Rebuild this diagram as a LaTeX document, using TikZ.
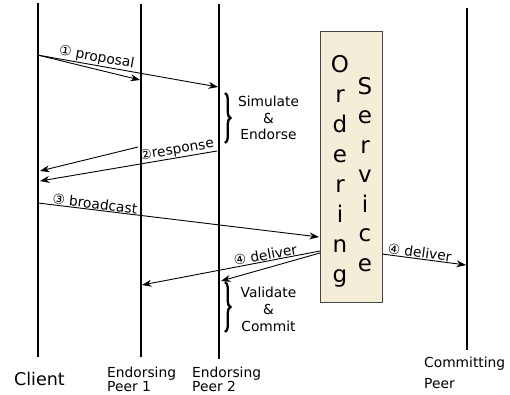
\documentclass[tikz,border=0pt]{standalone}
\usepackage{fontspec}
\setmainfont{DejaVu Sans}
\usetikzlibrary{arrows.meta,decorations.pathreplacing}
\definecolor{osfill}{RGB}{244,238,216}
\definecolor{osdraw}{RGB}{70,70,70}
\begin{document}
\begin{tikzpicture}[x=1pt,y=-1pt,
  lifeline/.style={line width=2pt},
  msg/.style={line width=0.9pt,-{Stealth[length=9.5pt,width=7pt]}},
  lbl/.style={font=\fontsize{13.8}{16}\selectfont, inner sep=0.6pt},
  side/.style={font=\fontsize{13.8}{16.5}\selectfont, inner sep=0pt, align=center, anchor=north},
  actor/.style={font=\fontsize{13.8}{14}\selectfont, inner sep=0pt, align=left, anchor=north west},
  letter/.style={font=\fontsize{23}{23}\selectfont, anchor=base, inner sep=0pt},
  brc/.style={decorate, decoration={brace, amplitude=5.5pt}, line width=2.3pt}
]
\useasboundingbox (0,0) rectangle (510,394);

% lifelines
\coordinate (cT) at (37.7,3);   \coordinate (cB) at (37.7,357);
\coordinate (e1T) at (141,4);   \coordinate (e1B) at (141,357);
\coordinate (e2T) at (219,4);   \coordinate (e2B) at (219,359);
\coordinate (cpT) at (467,8);   \coordinate (cpB) at (467,350);
\draw[lifeline] (cT) -- (cB);
\draw[lifeline] (e1T) -- (e1B);
\draw[lifeline] (e2T) -- (e2B);
\draw[lifeline] (cpT) -- (cpB);

% ordering service
\node[draw=osdraw, fill=osfill, line width=1pt, minimum width=62pt, minimum height=271pt, inner sep=0pt] (os) at (351,166.5) {};
\foreach \ch/\yy [count=\i] in {O/72,r/102,d/132,e/162,r/192,i/222,n/252,g/282}
  \node[letter] (ord\i) at (340,\yy) {\ch};
\foreach \ch/\yy [count=\i] in {S/94,e/123.5,r/153,v/182.5,i/212,c/241.5,e/271}
  \node[letter] (ser\i) at (365,\yy) {\ch};

% proposal
\coordinate (p0) at (37.5,55);
\coordinate (p1) at (140,80);
\coordinate (p2) at (218,87);
\draw[msg] (p0) -- (p1);
\draw[msg] (p0) -- node[lbl, sloped, above, pos=0.32] (lprop) {① proposal} (p2);

% simulate & endorse
\coordinate (b1t) at (225,93);
\coordinate (b1b) at (225,143);
\draw[brc] (b1t) -- (b1b);
\node[side] (sim) at (268.5,96) {Simulate\\\&\\Endorse};

% response
\coordinate (r1s) at (138,147);
\coordinate (r1e) at (40,171);
\coordinate (r2s) at (217,151);
\coordinate (r2e) at (40,181);
\draw[msg] (r1s) -- (r1e);
\draw[msg] (r2s) -- node[lbl, sloped, above, pos=0.22] (lresp) {②response} (r2e);

% broadcast
\coordinate (bs) at (38,203);
\coordinate (be) at (319,237);
\draw[msg] (bs) -- node[lbl, sloped, above, pos=0.2] (lbc) {③ broadcast} (be);

% deliver
\coordinate (d1s) at (320,251);
\coordinate (d1e) at (142,285);
\coordinate (d2s) at (320,253);
\coordinate (d2e) at (221,281);
\draw[msg] (d1s) -- node[lbl, sloped, above, pos=0.3] (ldel1) {④ deliver} (d1e);
\draw[msg] (d2s) -- (d2e);
\coordinate (d3s) at (382,254);
\coordinate (d3e) at (466,265);
\draw[msg] (d3s) -- node[lbl, sloped, above, pos=0.44] (ldel2) {④ deliver} (d3e);

% validate & commit
\coordinate (b2t) at (225,282);
\coordinate (b2b) at (225,332);
\draw[brc] (b2t) -- (b2b);
\node[side, font=\fontsize{13.8}{17}\selectfont] (val) at (268.5,286.5) {Validate\\\&\\Commit};

% actor labels
\node[font=\fontsize{17.5}{18}\selectfont, anchor=base, inner sep=0pt] (client) at (39.5,385) {Client};
\node[actor] (ep1) at (107,366.5) {Endorsing\\Peer 1};
\node[actor] (ep2) at (192,366.5) {Endorsing\\Peer 2};
\node[actor, font=\fontsize{13.8}{21}\selectfont] (cp) at (424,356.5) {Committing\\Peer};
\end{tikzpicture}
\end{document}
